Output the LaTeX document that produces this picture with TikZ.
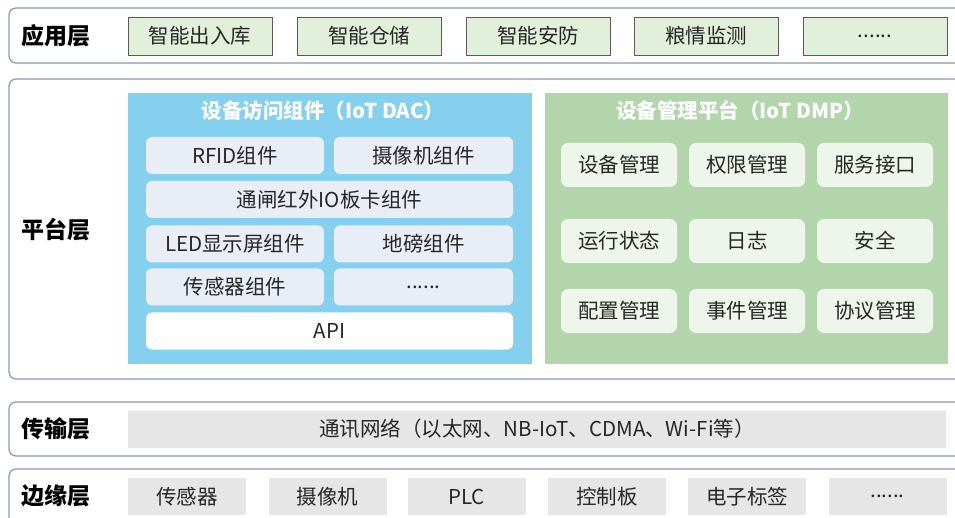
\documentclass[tikz,border=0pt]{standalone}
\usepackage{fontspec}
\setmainfont{Noto Sans CJK SC}
\definecolor{layerline}{HTML}{8A99AE}
\definecolor{appfill}{HTML}{E2EFDA}
\definecolor{appline}{HTML}{595959}
\definecolor{dacfill}{HTML}{85CFEF}
\definecolor{dacbox}{HTML}{E9EEF6}
\definecolor{dmpfill}{HTML}{B3D5AC}
\definecolor{dmpbox}{HTML}{EEF5EA}
\definecolor{grayfill}{HTML}{E6E6E6}
\definecolor{txt}{HTML}{262626}

\begin{document}
\begin{tikzpicture}[x=1pt, y=-1pt,
    layer/.style = {draw=layerline, line width=1.2pt, rounded corners=7pt, fill=white},
    layername/.style = {font=\fontsize{23}{23}\selectfont\bfseries, text=black},
    boxtext/.style = {font=\fontsize{20.5}{21}\selectfont, text=txt, inner sep=0pt},
    appbox/.style = {boxtext, draw=appline, line width=0.8pt, fill=appfill, minimum width=144, minimum height=38},
    dacbox/.style = {boxtext, fill=dacbox, rounded corners=6pt, minimum height=37},
    dmpbox/.style = {boxtext, fill=dmpbox, rounded corners=7pt, minimum width=116, minimum height=44},
    graybox/.style = {boxtext, fill=grayfill, minimum height=37},
    paneltitle/.style = {font=\fontsize{20.5}{21}\selectfont\bfseries, text=white}]
    \useasboundingbox (0,0) rectangle (955,518);
    \clip (0,0) rectangle (955,518);

    % layers
    \draw[layer] (9,8) rectangle (970,63);
    \draw[layer] (9,79) rectangle (970,379);
    \draw[layer] (9,402) rectangle (970,456);
    \draw[layer] (9,469) rectangle (970,540);

    \node[layername] (appl) at (56,36) {应用层};
    \node[layername] (platl) at (56,230) {平台层};
    \node[layername] (transl) at (56,429) {传输层};
    \node[layername] (edgel) at (56,496) {边缘层};

    % application layer
    \node[appbox] (app1) at (200,36) {智能出入库};
    \node[appbox] (app2) at (369,36) {智能仓储};
    \node[appbox] (app3) at (538,36) {智能安防};
    \node[appbox] (app4) at (706,36) {粮情监测};
    \node[appbox] (app5) at (875,36) {......};

    % platform layer: IoT DAC
    \fill[dacfill] (128,93) rectangle (532,364);
    \node[paneltitle] (dac) at (323,111) {设备访问组件（IoT DAC）};
    \node[dacbox, minimum width=178] (rfid) at (235,155.5) {RFID组件};
    \node[dacbox, minimum width=179] (cam) at (423.5,155.5) {摄像机组件};
    \node[dacbox, minimum width=367] (gate) at (329.5,199.5) {通闸红外IO板卡组件};
    \node[dacbox, minimum width=178] (led) at (235,244) {LED显示屏组件};
    \node[dacbox, minimum width=179] (scale) at (423.5,244) {地磅组件};
    \node[dacbox, minimum width=178] (sensor) at (235,287) {传感器组件};
    \node[dacbox, minimum width=179] (more) at (423.5,287) {......};
    \node[dacbox, fill=white, minimum width=367] (api) at (329.5,331) {API};

    % platform layer: IoT DMP
    \fill[dmpfill] (545,93) rectangle (948,364);
    \node[paneltitle] (dmp) at (740,111) {设备管理平台（IoT DMP）};
    \node[dmpbox] (devmgr) at (619,165) {设备管理};
    \node[dmpbox] (authmgr) at (747,165) {权限管理};
    \node[dmpbox] (svcif) at (875,165) {服务接口};
    \node[dmpbox] (runstat) at (619,241) {运行状态};
    \node[dmpbox] (log) at (747,241) {日志};
    \node[dmpbox] (safety) at (875,241) {安全};
    \node[dmpbox] (cfgmgr) at (619,311) {配置管理};
    \node[dmpbox] (evtmgr) at (747,311) {事件管理};
    \node[dmpbox] (protmgr) at (875,311) {协议管理};

    % transport layer
    \node[graybox, minimum width=818] (net) at (537,429) {通讯网络（以太网、NB-IoT、CDMA、Wi-Fi等）};

    % edge layer
    \node[graybox, minimum width=118] (edge1) at (187,496.5) {传感器};
    \node[graybox, minimum width=118] (edge2) at (327.5,496.5) {摄像机};
    \node[graybox, minimum width=118] (edge3) at (466.5,496.5) {PLC};
    \node[graybox, minimum width=118] (edge4) at (607,496.5) {控制板};
    \node[graybox, minimum width=118] (edge5) at (747,496.5) {电子标签};
    \node[graybox, minimum width=118] (edge6) at (887.5,496.5) {......};
\end{tikzpicture}
\end{document}
